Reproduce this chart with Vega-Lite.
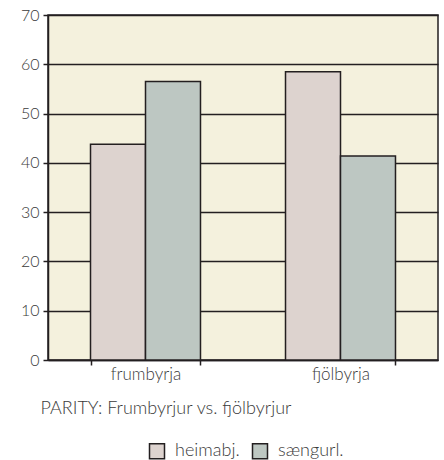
{
  "$schema": "https://vega.github.io/schema/vega-lite/v6.json",
  "autosize": {"type": "none"},
  "width": 390,
  "height": 345,
  "padding": {"left": 48, "top": 15, "right": 6, "bottom": 100},
  "background": "white",
  "config": {
    "view": {"fill": "#F4F1DD", "stroke": "#231F20", "strokeWidth": 1.5},
    "font": "Lato",
    "axis": {"labelFont": "Lato", "titleFont": "Lato", "labelColor": "#3A3A3A", "titleColor": "#3A3A3A", "labelFontWeight": 300, "titleFontWeight": 300},
    "legend": {"labelFont": "Lato", "labelFontWeight": 300}
  },
  "data": {
    "values": [
      {"parity": "frumbyrja", "group": "heimabj.", "value": 43.8},
      {"parity": "frumbyrja", "group": "sængurl.", "value": 56.5},
      {"parity": "fjölbyrja", "group": "heimabj.", "value": 58.5},
      {"parity": "fjölbyrja", "group": "sængurl.", "value": 41.4}
    ]
  },
  "mark": {"type": "bar", "stroke": "#231F20", "strokeWidth": 1.5},
  "encoding": {
    "x": {
      "field": "parity",
      "type": "nominal",
      "sort": ["frumbyrja", "fjölbyrja"],
      "scale": {"paddingInner": 0.436, "paddingOuter": 0.218},
      "axis": {
        "title": "PARITY: Frumbyrjur vs. fjölbyrjur",
        "titleAnchor": "start",
        "titleAlign": "left",
        "titleX": -8,
        "titleY": 53,
        "titleBaseline": "alphabetic",
        "titleFontSize": 18,
        "labelAngle": 0,
        "labelFontSize": 17,
        "labelPadding": 1,
        "tickBand": "extent",
        "tickSize": 5,
        "tickColor": "#231F20",
        "tickWidth": 1.5,
        "domainColor": "#231F20",
        "domainWidth": 1.5
      }
    },
    "xOffset": {"field": "group", "type": "nominal", "sort": ["heimabj.", "sængurl."], "scale": {"paddingInner": 0, "paddingOuter": 0}},
    "y": {
      "field": "value",
      "type": "quantitative",
      "scale": {"domain": [0, 70], "nice": false},
      "axis": {
        "title": null,
        "values": [0, 10, 20, 30, 40, 50, 60, 70],
        "grid": true,
        "gridColor": "#231F20",
        "gridWidth": 1.5,
        "gridOpacity": 1,
        "tickSize": 5,
        "tickColor": "#231F20",
        "tickWidth": 1.5,
        "domainColor": "#231F20",
        "domainWidth": 1.5,
        "labelFontSize": 16,
        "labelPadding": 4
      }
    },
    "color": {
      "field": "group",
      "type": "nominal",
      "sort": ["heimabj.", "sængurl."],
      "scale": {"domain": ["heimabj.", "sængurl."], "range": ["#DDD3CF", "#BDC7C2"]},
      "legend": {
        "title": null,
        "orient": "none",
        "direction": "horizontal",
        "legendX": 100,
        "legendY": 427,
        "symbolType": "square",
        "symbolSize": 225,
        "symbolStrokeColor": "#231F20",
        "symbolStrokeWidth": 1.5,
        "labelFontSize": 18,
        "labelColor": "#3A3A3A",
        "columnPadding": 9,
        "labelOffset": 9
      }
    }
  }
}
